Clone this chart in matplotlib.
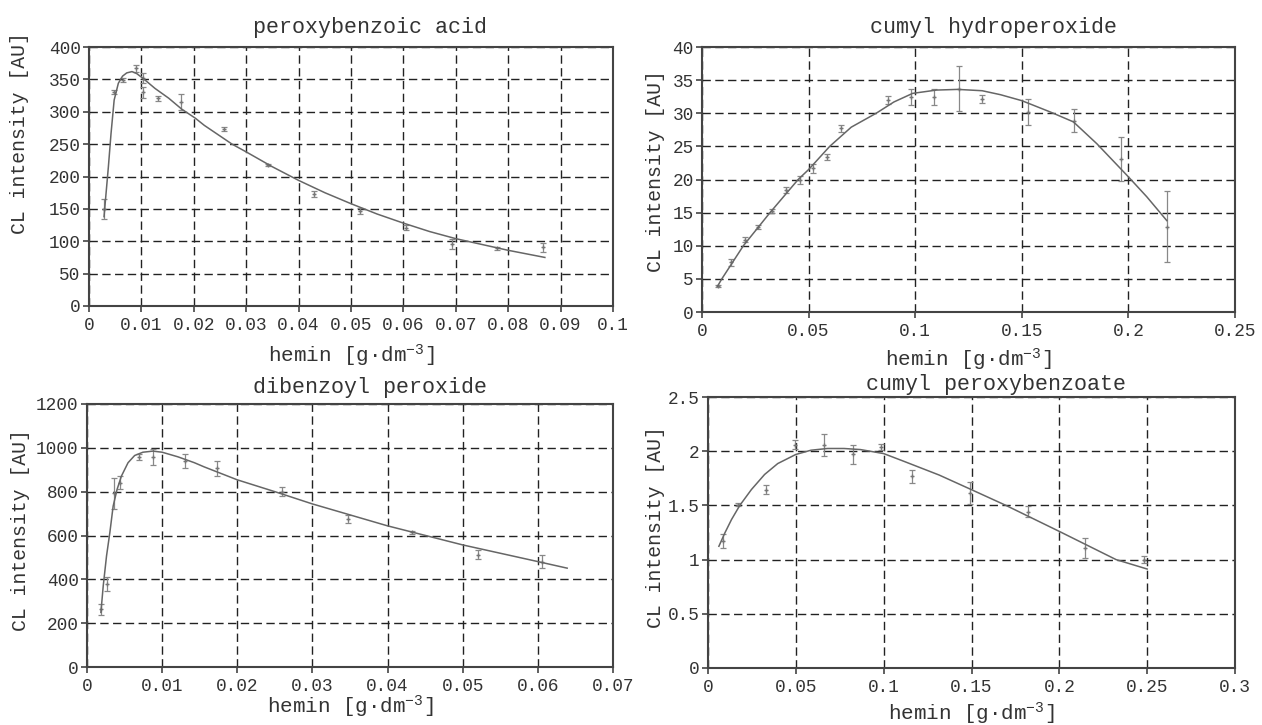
import matplotlib
matplotlib.use("Agg")
import matplotlib.pyplot as plt
from matplotlib.ticker import FuncFormatter

plt.rcParams['font.family'] = ['Liberation Mono', 'DejaVu Sans Mono']
plt.rcParams['mathtext.fontset'] = 'custom'
plt.rcParams['mathtext.rm'] = 'Liberation Mono'
plt.rcParams['mathtext.it'] = 'Liberation Mono'
plt.rcParams['mathtext.bf'] = 'Liberation Mono'

# ---------------- data ----------------
# peroxybenzoic acid
pba_x = [0.00287, 0.0048, 0.0064, 0.0089, 0.0103, 0.0103, 0.0131, 0.0175, 0.0258, 0.0342,
         0.0430, 0.0518, 0.0605, 0.0692, 0.0778, 0.0866]
pba_y = [150, 330, 349, 367, 352, 330, 321, 315, 274, 218, 173, 147, 121, 96, 89, 91]
pba_e = [16, 3, 3, 5, 8, 8, 4, 12, 3, 2, 4, 5, 4, 8, 2, 7]
pba_fx = [0.00287, 0.0032, 0.0037, 0.0042, 0.0048, 0.0056, 0.0064, 0.0072, 0.0082, 0.0091,
          0.0104, 0.0126, 0.0152, 0.0177, 0.0203, 0.0220, 0.0273, 0.030, 0.035, 0.040,
          0.045, 0.050, 0.055, 0.060, 0.065, 0.070, 0.075, 0.080, 0.087]
pba_fy = [138, 169, 215, 266, 318, 344, 355, 360, 362, 359, 351, 336, 321, 304, 290, 279,
          250, 238, 215, 194, 175, 158, 142, 128, 115, 104, 95, 86, 75]

# cumyl hydroperoxide
chp_x = [0.0073, 0.0137, 0.0202, 0.0264, 0.0327, 0.0393, 0.0459, 0.0521, 0.0588, 0.0653,
         0.0871, 0.0980, 0.1089, 0.1206, 0.1314, 0.1531, 0.1747, 0.1964, 0.2181]
chp_y = [3.9, 7.5, 10.9, 12.8, 15.3, 18.4, 19.9, 21.7, 23.4, 27.7,
         32.0, 32.5, 32.4, 33.7, 32.2, 30.2, 28.9, 23.1, 12.9]
chp_e = [0.2, 0.5, 0.4, 0.3, 0.3, 0.5, 0.6, 0.7, 0.4, 0.6,
         0.6, 1.2, 1.2, 3.4, 0.6, 2.0, 1.7, 3.3, 5.4]
chp_fx = [0.0073, 0.0093, 0.0194, 0.0319, 0.0451, 0.0500, 0.0599, 0.0700, 0.0817, 0.0900,
          0.0988, 0.1100, 0.1200, 0.1314, 0.1400, 0.1500, 0.1633, 0.1742, 0.1852, 0.2000,
          0.2086, 0.2180]
chp_fy = [3.9, 5.0, 10.0, 15.0, 20.0, 21.5, 25.0, 27.9, 30.0, 31.7,
          33.0, 33.5, 33.6, 33.4, 32.8, 31.9, 30.2, 28.7, 25.4, 20.4,
          17.4, 13.8]

# dibenzoyl peroxide
dbp_x = [0.00185, 0.00269, 0.00357, 0.00436, 0.00692, 0.00877, 0.0130, 0.0173, 0.0259,
         0.0347, 0.0432, 0.0520, 0.0606]
dbp_y = [264, 378, 793, 841, 959, 958, 939, 907, 800, 674, 614, 512, 481]
dbp_e = [25, 32, 70, 30, 15, 35, 32, 35, 20, 18, 8, 20, 30]
dbp_fx = [0.00185, 0.00216, 0.0026, 0.00304, 0.00348, 0.0040, 0.00458, 0.00546, 0.00634,
          0.00744, 0.00877, 0.0100, 0.0121, 0.0143, 0.0156, 0.0200, 0.0250, 0.0300,
          0.0400, 0.0500, 0.0600, 0.0639]
dbp_fy = [249, 370, 507, 613, 734, 810, 871, 932, 965, 980, 985, 980, 959, 932, 913,
          854, 800, 744, 644, 557, 481, 451]

# cumyl peroxybenzoate
cpb_x = [0.0087, 0.0171, 0.0331, 0.0495, 0.0661, 0.0827, 0.0985, 0.1159, 0.1490, 0.1820,
         0.2147, 0.2483]
cpb_y = [1.17, 1.508, 1.646, 2.06, 2.06, 1.97, 2.04, 1.77, 1.615, 1.44, 1.107, 1.00]
cpb_e = [0.065, 0.012, 0.04, 0.04, 0.10, 0.09, 0.03, 0.06, 0.10, 0.05, 0.09, 0.03]
cpb_fx = [0.0062, 0.0096, 0.0134, 0.0181, 0.0247, 0.0322, 0.0397, 0.0500, 0.0586, 0.0680,
          0.0774, 0.0868, 0.1000, 0.1113, 0.1316, 0.1500, 0.1696, 0.2000, 0.2323, 0.2500]
cpb_fy = [1.123, 1.246, 1.37, 1.50, 1.646, 1.785, 1.886, 1.97, 2.009, 2.025,
          2.025, 2.015, 1.978, 1.908, 1.78, 1.645, 1.50, 1.26, 1.00, 0.913]

titles = ["peroxybenzoic acid", "cumyl hydroperoxide", "dibenzoyl peroxide", "cumyl peroxybenzoate"]
xlims = [(0, 0.1), (0, 0.25), (0, 0.07), (0, 0.3)]
xsteps = [0.01, 0.05, 0.01, 0.05]
ylims = [(0, 400), (0, 40), (0, 1200), (0, 2.5)]
ysteps = [50, 5, 200, 0.5]

panels = [
    (pba_x, pba_y, pba_e, pba_fx, pba_fy),
    (chp_x, chp_y, chp_e, chp_fx, chp_fy),
    (dbp_x, dbp_y, dbp_e, dbp_fx, dbp_fy),
    (cpb_x, cpb_y, cpb_e, cpb_fx, cpb_fy),
]

W, H = 1262, 725
boxes = [(89, 613, 47, 306), (702, 1235, 47, 312), (87, 613, 404, 667), (708, 1235, 397, 668)]
title_pos = [(0.536, 1.077), (0.547, 1.075), (0.538, 1.061), (0.5465, 1.046)]
ylab_pos = [(-0.132, 0.668), (-0.088, 0.532), (-0.127, 0.52), (-0.100, 0.52)]
xlab_pos = [(0.5, -0.193), (0.5, -0.181), (0.5, -0.152), (0.5, -0.170)]

fig = plt.figure(figsize=(W / 100, H / 100), dpi=100)
fig.patch.set_facecolor('white')

fmt = FuncFormatter(lambda v, p: ('%.3f' % v).rstrip('0').rstrip('.') if abs(v) > 1e-12 else '0')

txt = '#333333'
for i, (px, py, pe, fx, fy) in enumerate(panels):
    l, r, t, b = boxes[i]
    ax = fig.add_axes([l / W, 1 - b / H, (r - l) / W, (b - t) / H])
    ax.errorbar(px, py, yerr=pe, fmt='+', ms=3, color='#777777', ecolor='#888888',
                elinewidth=0.9, capsize=2.2, capthick=0.9, zorder=3)
    ax.plot(fx, fy, color='#666666', lw=1.1, zorder=4)
    x0, x1 = xlims[i]
    y0, y1 = ylims[i]
    ax.set_xlim(x0, x1)
    ax.set_ylim(y0, y1)
    nx = int(round((x1 - x0) / xsteps[i]))
    ny = int(round((y1 - y0) / ysteps[i]))
    ax.set_xticks([x0 + k * xsteps[i] for k in range(nx + 1)])
    ax.set_yticks([y0 + k * ysteps[i] for k in range(ny + 1)])
    ax.xaxis.set_major_formatter(fmt)
    ax.yaxis.set_major_formatter(fmt)
    ax.grid(True, color='#222222', lw=1.0, linestyle=(0, (6, 3.2)))
    ax.tick_params(direction='out', length=4, width=1.2, colors='#444444',
                   labelcolor=txt, labelsize=12.8)
    ax.tick_params(axis='x', pad=4)
    ax.tick_params(axis='y', pad=2)
    for s in ax.spines.values():
        s.set_color('#444444')
        s.set_linewidth(1.5)
    ax.text(title_pos[i][0], title_pos[i][1], titles[i], transform=ax.transAxes,
            ha='center', va='center', fontsize=15.6, color=txt)
    ax.set_xlabel('hemin [g\u00b7dm$^{\\mathrm{-3}}$]', fontsize=15, color=txt)
    ax.xaxis.set_label_coords(*xlab_pos[i])
    ax.xaxis.label.set_va('center')
    ax.set_ylabel('CL intensity [AU]', fontsize=14.2, color=txt)
    ax.yaxis.set_label_coords(*ylab_pos[i])
    ax.yaxis.label.set_va('center')

fig.savefig('out.png', dpi=100, facecolor='white')
